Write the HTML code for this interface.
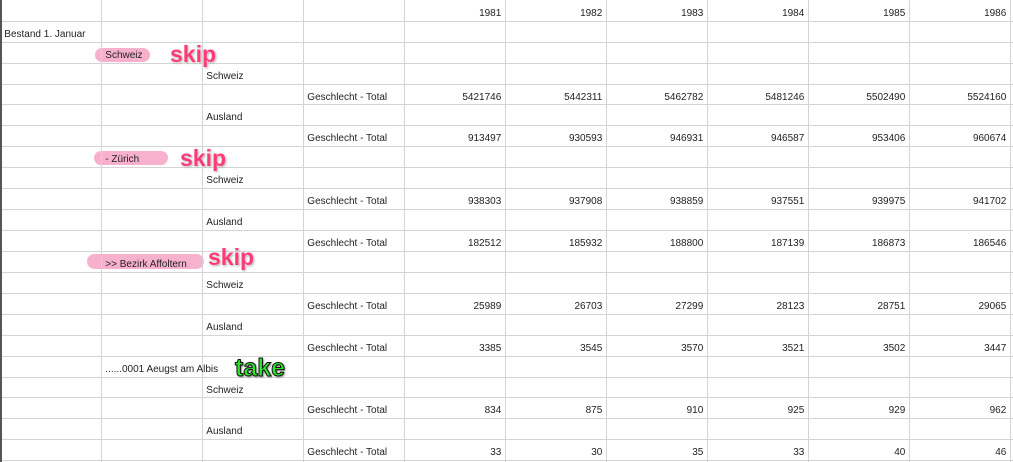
<!DOCTYPE html>
<html><head><meta charset="utf-8"><style>
body{margin:0;width:1013px;height:462px;overflow:hidden;background:#fff;font-family:"Liberation Sans",sans-serif;position:relative}
.vl{position:absolute;top:0;width:1px;height:462px;background:#d4d4d4}
.hl{position:absolute;left:0;height:1px;width:1013px;background:#d4d4d4}
.t{position:absolute;font-size:10px;color:#222;white-space:nowrap;line-height:12px}
.hi{position:absolute;background:#f7a3c3;border-radius:8px;opacity:.85}
.skip{position:absolute;font-size:23px;font-weight:bold;color:#ff3a78;line-height:24px;text-shadow:0 0 2px #fff,1px 1px 2px #999}
.take{position:absolute;font-size:25px;font-weight:bold;color:#2ee62e;line-height:26px;-webkit-text-stroke:1px #111;text-shadow:1px 1px 2px #555}
</style></head><body>
<div class="hi" style="left:95px;top:48px;width:55px;height:14px"></div>
<div class="hi" style="left:94px;top:151px;width:74px;height:14px"></div>
<div class="hi" style="left:87px;top:254px;width:117px;height:15px"></div>
<div id="grid"></div>
<div style="position:absolute;left:0;top:0;width:2px;height:462px;background:#555"></div>
<div class="skip" style="left:170px;top:42px">skip</div>
<div class="skip" style="left:180px;top:146px">skip</div>
<div class="skip" style="left:208px;top:245px">skip</div>
<div class="take" style="left:235px;top:355px">take</div>
<script>
const years=["1981","1982","1983","1984","1985","1986"];
const labels=[["",""],[0,"Bestand 1. Januar"],[1,"Schweiz"],[2,"Schweiz"],[3,"Geschlecht - Total"],[2,"Ausland"],[3,"Geschlecht - Total"],[1,"- Zürich"],[2,"Schweiz"],[3,"Geschlecht - Total"],[2,"Ausland"],[3,"Geschlecht - Total"],[1,">> Bezirk Affoltern"],[2,"Schweiz"],[3,"Geschlecht - Total"],[2,"Ausland"],[3,"Geschlecht - Total"],[1,"......0001 Aeugst am Albis"],[2,"Schweiz"],[3,"Geschlecht - Total"],[2,"Ausland"],[3,"Geschlecht - Total"]];
const values={4:[5421746,5442311,5462782,5481246,5502490,5524160],6:[913497,930593,946931,946587,953406,960674],9:[938303,937908,938859,937551,939975,941702],11:[182512,185932,188800,187139,186873,186546],14:[25989,26703,27299,28123,28751,29065],16:[3385,3545,3570,3521,3502,3447],19:[834,875,910,925,929,962],21:[33,30,35,33,40,46]};
const g=document.getElementById('grid');
const rowY=k=>-0.2+20.93*k, colX=c=>0.3+101*c;
for(let c=1;c<=10;c++){const d=document.createElement('div');d.className='vl';d.style.left=colX(c)+'px';

g.appendChild(d);}
for(let r=1;r<=22;r++){const d=document.createElement('div');d.className='hl';d.style.top=rowY(r)+'px';

g.appendChild(d);}
function txt(s,x,y,right,name){const d=document.createElement('div');d.className='t';d.textContent=s;d.style.top=(y+8)+'px';
if(right){d.style.right=(1013-x)+'px';}else d.style.left=x+'px';

g.appendChild(d);}
years.forEach((y,i)=>txt(y,colX(5+i)-4,rowY(0),true,'year-header'));
labels.forEach((l,r)=>{if(l[1])txt(l[1],colX(l[0])+4,rowY(r),false,'row-label');});
Object.keys(values).forEach(r=>values[r].forEach((v,i)=>txt(String(v),colX(5+i)-4,rowY(+r),true,'cell-value')));
</script>
</body></html>
